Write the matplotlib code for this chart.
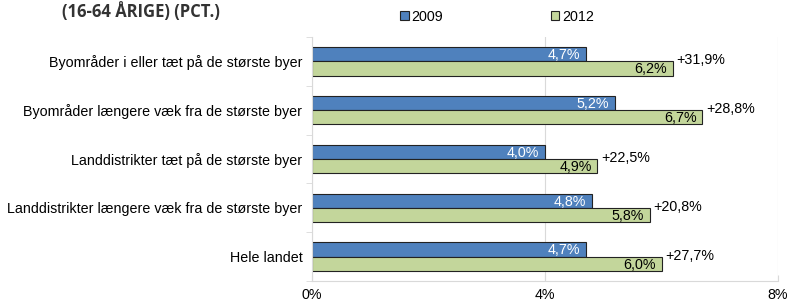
import matplotlib.pyplot as plt
import numpy as np

# Data
categories = [
    "Byområder i eller tæt på de største byer",
    "Byområder længere væk fra de største byer",
    "Landdistrikter tæt på de største byer",
    "Landdistrikter længere væk fra de største byer",
    "Hele landet",
]
values_2009 = [4.7, 5.2, 4.0, 4.8, 4.7]
values_2012 = [6.2, 6.7, 4.9, 5.8, 6.0]
changes = ["+31,9%", "+28,8%", "+22,5%", "+20,8%", "+27,7%"]
xticks = [0, 4, 8]
xtick_labels = ["0%", "4%", "8%"]

plt.rcParams["font.family"] = ["Liberation Sans", "DejaVu Sans"]
fs = 10.3

fig = plt.figure(figsize=(7.91, 3.03), dpi=100)
ax = fig.add_axes([312 / 791, 1 - 281 / 303, (778 - 312) / 791, (281 - 37) / 303])

n = len(categories)
y = np.arange(n)
h = 0.29
blue = "#4F81BD"
green = "#C3D69B"


def fmt(v):
    return f"{v:.1f}".replace(".", ",") + "%"


b1 = ax.barh(y - h / 2, values_2009, height=h, color=blue, edgecolor="#222222", linewidth=0.8, label="2009")
b2 = ax.barh(y + h / 2, values_2012, height=h, color=green, edgecolor="#222222", linewidth=0.8, label="2012")

for i in range(n):
    ax.text(values_2009[i] - 0.1, y[i] - h / 2 + 0.02, fmt(values_2009[i]),
            ha="right", va="center", color="white", fontsize=fs)
    ax.text(values_2012[i] - 0.1, y[i] + h / 2 + 0.02, fmt(values_2012[i]),
            ha="right", va="center", color="black", fontsize=fs)
    ax.text(values_2012[i] + 0.06, y[i] - 0.02, changes[i], ha="left", va="center", fontsize=fs)

ax.set_xlim(0, 8)
ax.set_ylim(n - 0.5, -0.5)
ax.set_xticks(xticks)
ax.set_xticklabels(xtick_labels, fontsize=fs)
ax.set_yticks(y)
ax.set_yticklabels(categories, fontsize=fs)
ax.set_yticks(np.arange(-0.5, n, 1), minor=True)
ax.tick_params(axis="y", which="major", length=0, pad=7)
ax.tick_params(axis="y", which="minor", length=4, color="#D9D9D9", direction="out")
ax.tick_params(axis="x", length=4, color="#D9D9D9", direction="in", pad=5)

ax.grid(axis="x", color="#D9D9D9", linewidth=0.8)
ax.set_axisbelow(True)
for s in ["top", "right"]:
    ax.spines[s].set_visible(False)
ax.spines["left"].set_color("#D9D9D9")
ax.spines["bottom"].set_color("#D9D9D9")

fig.legend(handles=[b1, b2], loc="center", bbox_to_anchor=(497 / 791, 1 - 17 / 303), ncol=2,
           frameon=False, fontsize=fs, handlelength=0.6, handleheight=0.6, handletextpad=0.2,
           columnspacing=7.5)

fig.text(62 / 791, 1 - 2 / 303, "(16-64 ÅRIGE) (PCT.)", fontsize=12, fontweight="bold",
         family=["Open Sans", "DejaVu Sans"], color="#333333", ha="left", va="top")

fig.savefig("out.png", dpi=100)
